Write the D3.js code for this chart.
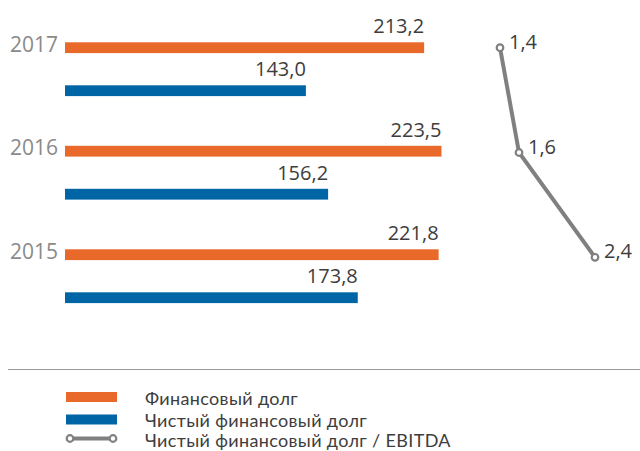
<!DOCTYPE html>
<html><head><meta charset="utf-8">
<script src="https://cdn.jsdelivr.net/npm/d3@7"></script>
<style>body{margin:0;background:#fff}svg{display:block}text{font-family:"Open Sans",sans-serif}text.lg{font-family:Lato,"Open Sans",sans-serif;letter-spacing:0.35px}</style>
</head><body>
<script>
const years = ["2017", "2016", "2015"];
const seriesKeys = ["fin", "net"];
const seriesNames = ["Финансовый долг", "Чистый финансовый долг"];
const finDebt = [213.2, 223.5, 221.8];
const netDebt = [143.0, 156.2, 173.8];
const ratio = [1.4, 1.6, 2.4];
const lineName = "Чистый финансовый долг / EBITDA";
const fmt = v => d3.format(".1f")(v).replace(".", ",");

const W = 640, H = 451;
const colors = {fin: "#E8692A", net: "#0065A5"};
const grey = "#808080";

const svg = d3.select("body").append("svg").attr("width", W).attr("height", H);

const x = d3.scaleLinear().domain([0, 250]).range([65, 65 + 250 * 1.6845]);
const y0 = d3.scaleBand().domain(years).range([17.5, 328]).paddingInner(0);
const y1 = d3.scalePoint().domain(seriesKeys).range([30.2, 73.2]);
const barH = 10.8;

const data = years.map((y, i) => ({year: y, fin: finDebt[i], net: netDebt[i]}));

const g = svg.append("g");
data.forEach(d => {
  const gg = g.append("g").attr("transform", `translate(0,${y0(d.year)})`);
  seriesKeys.forEach(k => {
    gg.append("rect")
      .attr("x", x(0)).attr("y", y1(k) - barH / 2)
      .attr("width", x(d[k]) - x(0)).attr("height", barH)
      .attr("fill", colors[k]);
    gg.append("text")
      .attr("x", x(d[k])).attr("y", y1(k) - barH / 2 - 9)
      .attr("text-anchor", "end").attr("font-size", 20).attr("fill", "#3d3d3d")
      .text(fmt(d[k]));
  });
  gg.append("text")
    .attr("x", 58).attr("y", y1("fin") + barH / 2 - 1.3)
    .attr("text-anchor", "end").attr("font-size", 21).attr("fill", "#8a8a8a")
    .text(d.year);
});

// line series
const lx = d3.scaleLinear().domain([1.4, 2.4]).range([500, 595]);
const ly = d3.scalePoint().domain(years).range([47.7, 257.3]);
const pts = years.map((y, i) => ({year: y, v: ratio[i]}));
svg.append("path")
  .datum(pts)
  .attr("d", d3.line().x(d => lx(d.v)).y(d => ly(d.year)))
  .attr("fill", "none").attr("stroke", grey).attr("stroke-width", 4);
svg.selectAll("circle.pt").data(pts).join("circle").attr("class", "pt")
  .attr("cx", d => lx(d.v)).attr("cy", d => ly(d.year)).attr("r", 3.3)
  .attr("fill", "#fff").attr("stroke", grey).attr("stroke-width", 2.2);
svg.selectAll("text.pl").data(pts).join("text").attr("class", "pl")
  .attr("x", d => lx(d.v) + 9).attr("y", d => ly(d.year) + 1)
  .attr("font-size", 20).attr("fill", "#3d3d3d")
  .text(d => fmt(d.v));

// separator
svg.append("line").attr("x1", 8).attr("x2", W).attr("y1", 369.5).attr("y2", 369.5)
  .attr("stroke", "#9a9a9a").attr("stroke-width", 1);

// legend
const leg = svg.append("g");
seriesKeys.forEach((k, i) => {
  leg.append("rect").attr("x", 66).attr("y", 392 + i * 22.5).attr("width", 51).attr("height", 10)
    .attr("fill", colors[k]);
  leg.append("text").attr("class", "lg").attr("x", 145).attr("y", 404.8 + i * 21.7).attr("font-size", 18).attr("fill", "#3d3d3d")
    .text(seriesNames[i]);
});
leg.append("line").attr("x1", 70).attr("x2", 113).attr("y1", 438.5).attr("y2", 438.5)
  .attr("stroke", grey).attr("stroke-width", 4);
[70, 113].forEach(cx => leg.append("circle").attr("cx", cx).attr("cy", 438.5).attr("r", 3.3)
  .attr("fill", "#fff").attr("stroke", grey).attr("stroke-width", 2.2));
leg.append("text").attr("class", "lg").attr("x", 145).attr("y", 447.2).attr("font-size", 18).attr("fill", "#3d3d3d")
  .text(lineName);
</script>
</body></html>
